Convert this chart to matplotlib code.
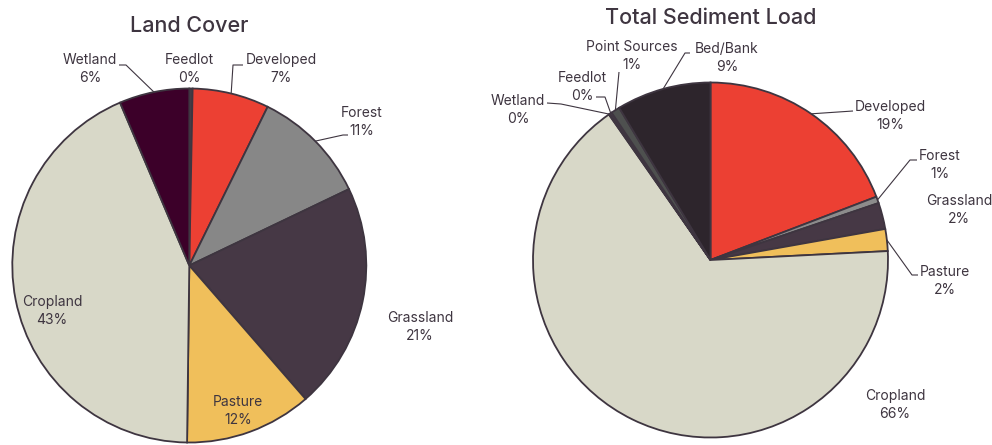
import numpy as np
import matplotlib
matplotlib.use('Agg')
import matplotlib.pyplot as plt

# --- palette ---
INK = "#3E3540"
C_DEVELOPED = "#EC4033"
C_FOREST = "#878787"
C_GRASS = "#463845"
C_PASTURE = "#F0BF5B"
C_CROP = "#D8D8C8"
C_WETLAND = "#3C0029"
C_FEEDLOT = "#4A4048"
C_POINT = "#4E504F"
C_BEDBANK = "#2D252C"

# --- data (percent of total) ---
land_labels = ["Feedlot", "Developed", "Forest", "Grassland", "Pasture", "Cropland", "Wetland"]
land_values = [0.3, 7.0, 10.6, 20.7, 11.6, 43.4, 6.4]
land_colors = [C_FEEDLOT, C_DEVELOPED, C_FOREST, C_GRASS, C_PASTURE, C_CROP, C_WETLAND]

sed_labels = ["Developed", "Forest", "Grassland", "Pasture", "Cropland",
              "Wetland", "Feedlot", "Point Sources", "Bed/Bank"]
sed_values = [19.2, 0.6, 2.4, 2.0, 66.1, 0.1, 0.2, 0.8, 8.6]
sed_colors = [C_DEVELOPED, "#8C8C8C", C_GRASS, C_PASTURE, C_CROP,
              C_WETLAND, C_FEEDLOT, C_POINT, C_BEDBANK]

# --- layout (figure pixels, y down) ---
LAND_CENTER, LAND_R = (189.3, 265.5), 177
SED_CENTER, SED_R = (710.5, 260.0), 177.5

# label text position, leader elbow points (None = no leader)
land_layout = {
    "Feedlot":   ((189, 69), None),
    "Developed": ((281, 69), [(233, 65), (243, 65)]),
    "Forest":    ((362, 122), [(343, 135), (348, 135)]),
    "Grassland": ((420, 327), None),
    "Pasture":   ((238, 411), None),
    "Cropland":  ((52, 311), None),
    "Wetland":   ((90, 69), [(126, 65), (119, 65)]),
}
sed_layout = {
    "Developed":     ((890, 116), [(853, 111)]),
    "Forest":        ((940, 165), [(910, 160), (917, 160)]),
    "Grassland":     ((959, 210), None),
    "Pasture":       ((945, 281), [(912, 275), (918, 275)]),
    "Cropland":      ((895, 405), None),
    "Wetland":       ((518, 110), [(561, 104), (547, 103)]),
    "Feedlot":       ((582, 87), [(605, 97), (596, 97)]),
    "Point Sources": ((632, 56), [(619, 72)]),
    "Bed/Bank":      ((727, 58), [(685, 53), (690, 53)]),
}

FONT = ["Inter", "DejaVu Sans"]
plt.rcParams['font.family'] = FONT

fig = plt.figure(figsize=(9.92, 4.45), dpi=100)
ax = fig.add_axes([0, 0, 1, 1])


def draw_pie(values, colors, labels, center, radius, layout, title, title_y):
    ax.pie(values, colors=colors, center=center, radius=radius,
           startangle=-90, counterclock=True,
           wedgeprops=dict(edgecolor=INK, linewidth=1.3))
    total = float(sum(values))
    start = -90.0
    for lab, val in zip(labels, values):
        span = 360.0 * val / total
        mid = np.radians(start + span / 2)
        start += span
        (tx, ty), elbow = layout[lab]
        ax.text(tx, ty, f"{lab}\n{val:.0f}%", ha='center', va='center',
                fontsize=10, color=INK, linespacing=1.45)
        if elbow:
            ex = center[0] + radius * np.cos(mid)
            ey = center[1] + radius * np.sin(mid)
            xs = [ex] + [p[0] for p in elbow]
            ys = [ey] + [p[1] for p in elbow]
            ax.plot(xs, ys, color=INK, linewidth=0.8, solid_capstyle='butt')
    ax.text(center[0], title_y, title, ha='center', va='center',
            fontsize=15.5, color=INK, fontweight='medium')


draw_pie(land_values, land_colors, land_labels, LAND_CENTER, LAND_R,
         land_layout, "Land Cover", 26)
draw_pie(sed_values, sed_colors, sed_labels, SED_CENTER, SED_R,
         sed_layout, "Total Sediment Load", 18)

ax.set_xlim(0, 992)
ax.set_ylim(445, 0)
ax.set_axis_off()

fig.savefig("out.png", dpi=100, facecolor="white")
